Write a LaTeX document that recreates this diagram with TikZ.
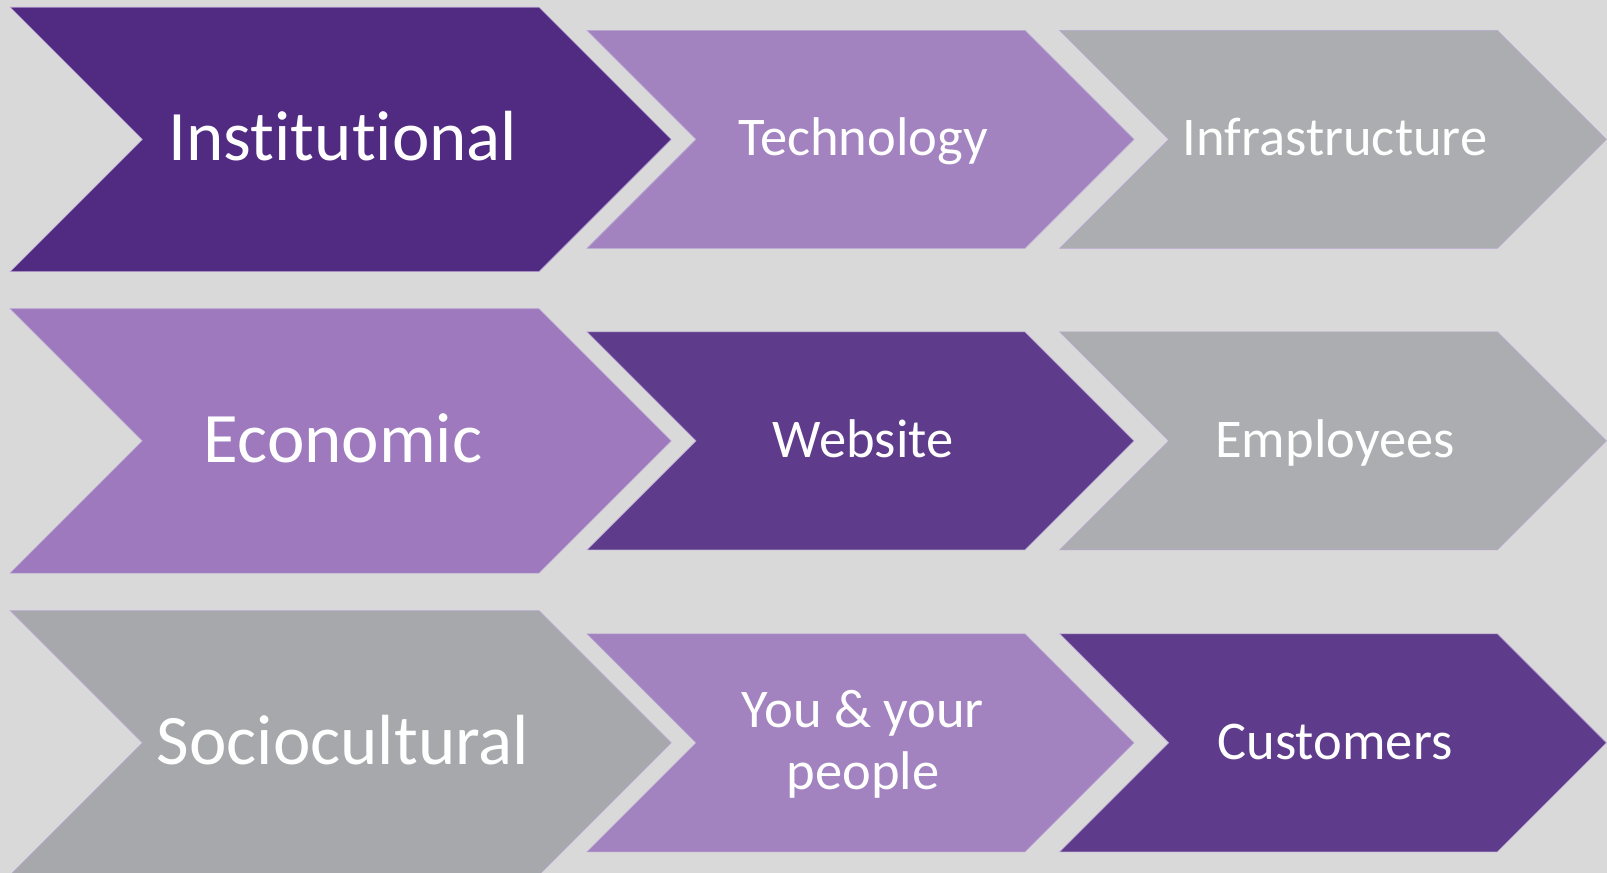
\documentclass[tikz,border=0pt]{standalone}
\usepackage{fontspec}
\setmainfont{Carlito}[Ligatures=NoCommon]
\definecolor{canvas}{HTML}{D9D9D9}
\definecolor{deeppurple}{HTML}{512A81}
\definecolor{midpurple}{HTML}{5F3B8B}
\definecolor{lilac}{HTML}{A382C0}
\definecolor{lilacb}{HTML}{9E79BE}
\definecolor{steel}{HTML}{ACADB0}
\definecolor{steelb}{HTML}{A7A8AB}
\definecolor{edgetint}{HTML}{B9A7D4}

% chevron: fill colour, left x, right x, centre y, half height
\newcommand{\chevshape}[5]{%
  \fill[#1] (#2,#4-#5) -- (#3,#4-#5) -- (#3+#5,#4) -- (#3,#4+#5)
    -- (#2,#4+#5) -- (#2+#5,#4) -- cycle;
  \draw[chevedge] (#2,#4-#5) -- (#3,#4-#5) -- (#3+#5,#4) -- (#3,#4+#5)
    -- (#2,#4+#5) -- (#2+#5,#4) -- cycle;}

\begin{document}
\begin{tikzpicture}[x=1pt,y=-1pt,
  chevedge/.style={draw=edgetint, line width=0.6pt, line join=miter},
  chevtext/.style={text=white, inner sep=0pt, anchor=base},
  bigtext/.style={chevtext, font=\fontsize{71}{80}\selectfont},
  smalltext/.style={chevtext, font=\fontsize{54.5}{61.5}\selectfont, align=center}]

\useasboundingbox (0,0) rectangle (1607,873);
\clip (0,0) rectangle (1607,873);
\fill[canvas] (0,0) rectangle (1607,873);

% row 1
\chevshape{deeppurple}{10.2}{539}{139.4}{132.2}
\chevshape{lilac}{587}{1025}{139.4}{109}
\chevshape{steel}{1059.7}{1497.4}{139.4}{109}
% row 2
\chevshape{lilacb}{10.2}{539}{440.9}{132.2}
\chevshape{midpurple}{587}{1025}{440.9}{109}
\chevshape{steel}{1059.7}{1497.4}{440.9}{109}
% row 3
\chevshape{steelb}{10.2}{539}{742.8}{132.2}
\chevshape{lilac}{587}{1025}{742.8}{109}
\chevshape{midpurple}{1059.7}{1497.4}{742.8}{109}

% labels (base anchor sits on the last line's baseline)
\node[bigtext] (institutional) at (343,160.9) {Institutional};
\node[smalltext] (technology) at (863,155.9) {Technology};
\node[smalltext] (infrastructure) at (1335,155.9) {Infrastructure};

\node[bigtext] (economic) at (343,462.4) {Economic};
\node[smalltext] (website) at (863,457.4) {Website};
\node[smalltext] (employees) at (1335,457.4) {Employees};

\node[bigtext] (sociocultural) at (343,764.3) {Sociocultural};
\node[smalltext] (people) at (863,789.2) {You \& your\\people};
\node[smalltext] (customers) at (1335,759.3) {Customers};
\end{tikzpicture}
\end{document}
